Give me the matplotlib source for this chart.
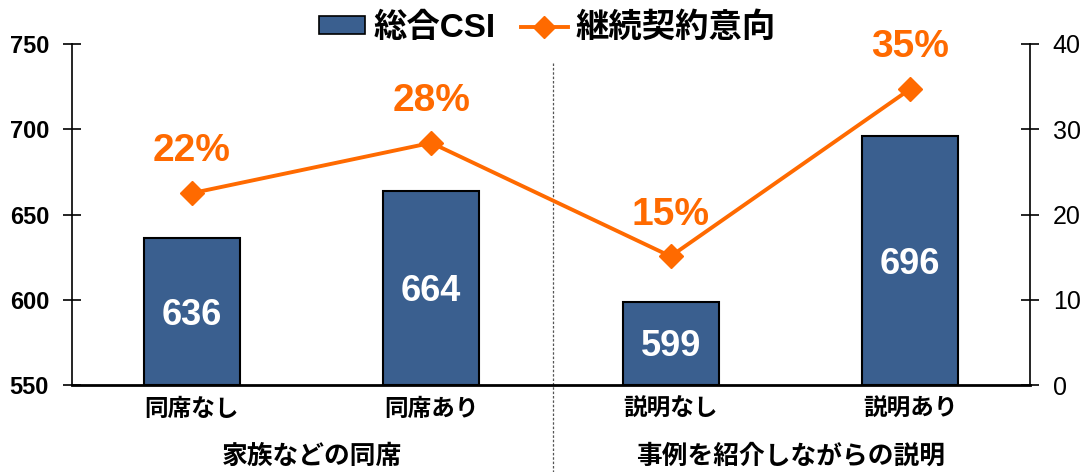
import matplotlib
matplotlib.use("Agg")
import matplotlib.pyplot as plt
from matplotlib.lines import Line2D
from matplotlib.patches import Patch

plt.rcParams['font.family'] = ['Liberation Sans', 'Noto Sans CJK JP']
plt.rcParams['font.weight'] = 'bold'

categories = ['同席なし', '同席あり', '説明なし', '説明あり']
groups = ['家族などの同席', '事例を紹介しながらの説明']
csi = [636, 664, 599, 696]
intent = [22.5, 28.4, 15.1, 34.7]
intent_labels = ['22%', '28%', '15%', '35%']

bar_color = '#3A5F8F'
line_color = '#FF6A00'

fig = plt.figure(figsize=(10.84, 4.72), dpi=100)
ax = fig.add_axes([0.0664, 0.184, 0.8836, 0.723])
x = range(len(categories))

ax.bar(x, [v - 550 for v in csi], bottom=550, width=0.4, color=bar_color,
       edgecolor='black', linewidth=1.5, zorder=2)
for i, v in enumerate(csi):
    ax.text(i, (550 + v) / 2 - 2, str(v), color='white', fontsize=26,
            fontweight='bold', ha='center', va='center', zorder=3)

ax.set_xlim(-0.5, 3.5)
ax.set_ylim(550, 750)
ax.set_yticks([550, 600, 650, 700, 750])
ax.set_xticks(list(x))
ax.set_xticklabels(categories, fontsize=17, fontweight='bold')
ax.tick_params(axis='x', length=0, pad=9)
ax.tick_params(axis='y', labelsize=17, direction='inout', length=13, width=1.2, pad=10)
ax.spines['top'].set_visible(False)
ax.spines['right'].set_visible(False)
ax.spines['left'].set_linewidth(1.2)
ax.spines['bottom'].set_linewidth(2)

ax2 = ax.twinx()
ax2.plot(x, intent, color=line_color, linewidth=2.8, marker='D',
         markersize=12, zorder=4)
for i, (v, lab) in enumerate(zip(intent, intent_labels)):
    ax2.text(i, v + 4.9, lab, color=line_color, fontsize=28,
             fontweight='bold', ha='center', va='center')
ax2.set_ylim(0, 40)
ax2.set_yticks([0, 10, 20, 30, 40])
ax2.tick_params(axis='y', labelsize=18, direction='inout', length=13, width=1.2, pad=10)
for lab in ax2.get_yticklabels():
    lab.set_fontweight('normal')
for s in ['top', 'left', 'bottom']:
    ax2.spines[s].set_visible(False)
ax2.spines['right'].set_linewidth(1.2)

# dashed divider between groups
ax.plot([1.51, 1.51], [739, 499], color='#555555',
        linestyle=(0, (2, 1.5)), linewidth=0.9, clip_on=False, zorder=1)

# group labels
for i, g in enumerate(groups):
    ax.text(0.5 + 2 * i, 508, g, fontsize=18.5, fontweight='bold',
            ha='center', va='center', clip_on=False)

handles = [Patch(facecolor=bar_color, edgecolor='black', linewidth=1.2),
           Line2D([0], [0], color=line_color, linewidth=2.8, marker='D', markersize=11)]
fig.legend(handles, ['総合CSI', '継続契約意向'], loc='center', bbox_to_anchor=(0.505, 0.94),
           ncol=2, frameon=False, prop={'size': 24, 'weight': 'bold'},
           handlelength=1.4, handleheight=0.45, columnspacing=0.75, handletextpad=0.25)

fig.savefig('out.png', dpi=100)
